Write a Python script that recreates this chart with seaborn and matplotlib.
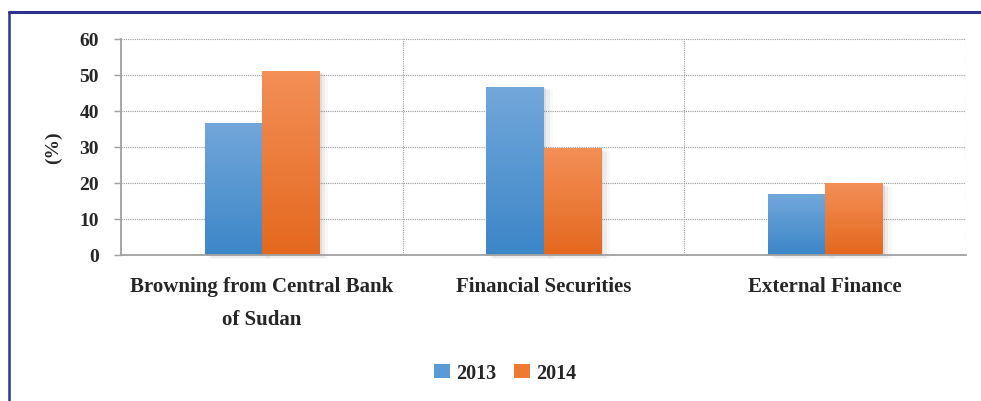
import numpy as np
import pandas as pd
import matplotlib
matplotlib.use("Agg")
import matplotlib.pyplot as plt
from matplotlib.lines import Line2D
from matplotlib.patches import Rectangle
from matplotlib.colors import LinearSegmentedColormap
import seaborn as sns

# --- data ---
categories = ["Browning from Central Bank\nof Sudan", "Financial Securities", "External Finance"]
years = ["2013", "2014"]
values_2013 = [36.8, 46.8, 16.9]
values_2014 = [51.0, 29.6, 19.9]
y_ticks = [0, 10, 20, 30, 40, 50, 60]

df = pd.DataFrame({
    "category": categories * 2,
    "year": [years[0]] * 3 + [years[1]] * 3,
    "value": values_2013 + values_2014,
})

# colour ramps (top -> bottom) for each series
ramps = {
    "2013": ("#72a7da", "#3c86c8"),
    "2014": ("#f38f57", "#e4681e"),
}
solid = {"2013": "#5a9bd5", "2014": "#ee7b30"}

sns.set_theme(style="white")
plt.rcParams["font.family"] = ["Liberation Serif", "DejaVu Serif"]
plt.rcParams["font.weight"] = "bold"

W, H = 981, 402
fig = plt.figure(figsize=(W / 100, H / 100), dpi=100)
ax = fig.add_axes([121 / W, (H - 256) / H, (966 - 121) / W, (256 - 40) / H])

sns.barplot(data=df, x="category", y="value", hue="year", order=categories,
            hue_order=years, palette=solid, width=0.405, gap=0, dodge=True,
            saturation=1, edgecolor="none", linewidth=0, ax=ax, zorder=3)

ax.set_xlim(-0.5, 2.5)
ax.set_ylim(0, 60)
ax.set_yticks(y_ticks)
ax.set_yticklabels([str(v) for v in y_ticks], fontsize=14, fontweight="bold")
ax.set_xticks(range(len(categories)))
ax.set_xticklabels(categories, fontsize=15, fontweight="bold", linespacing=1.85,
                   va="top")
ax.set_xlabel("")
ax.set_ylabel("(%)", fontsize=14, fontweight="bold")
ax.yaxis.set_label_coords(-0.080, 0.5)
ax.yaxis.label.set_va("center")

# gridlines: horizontal at each tick, vertical at category boundaries
ax.set_xticks([0.5, 1.5, 2.5], minor=True)
ax.grid(axis="y", which="major", color="#9a9a9a", linestyle=(0, (1, 1)), linewidth=0.8, zorder=0)
ax.grid(axis="x", which="minor", color="#9a9a9a", linestyle=(0, (1, 1)), linewidth=0.8, zorder=0)
ax.set_axisbelow(True)

for side in ["top", "right"]:
    ax.spines[side].set_visible(False)
for side in ["left", "bottom"]:
    ax.spines[side].set_color("#a0a0a0")
    ax.spines[side].set_linewidth(1.3)
    ax.spines[side].set_zorder(4)

ax.tick_params(axis="y", which="major", length=5, width=1, color="#a0a0a0",
               direction="out", pad=11, left=True)
ax.tick_params(axis="x", which="both", length=0, pad=15)

# gradient fill and soft drop shadow for every bar
if ax.get_legend() is not None:
    ax.get_legend().remove()

bars = [p for p in ax.patches if isinstance(p, Rectangle) and p.get_height() > 0]
grad = np.linspace(0, 1, 256).reshape(-1, 1)
for bar in bars:
    x0, y0 = bar.get_x(), bar.get_y()
    w, h = bar.get_width(), bar.get_height()
    fc = matplotlib.colors.to_hex(bar.get_facecolor())
    key = "2013" if fc == matplotlib.colors.to_hex(solid["2013"]) else "2014"
    top, bottom = ramps[key]
    cmap = LinearSegmentedColormap.from_list(key, [top, bottom])
    # shadow layers
    dx = 0.012
    for i, a in enumerate([0.10, 0.07, 0.04]):
        sh = Rectangle((x0 + dx * (i + 1) * 0.6, y0 - 0.35 * (i + 1)),
                       w + dx * (i + 0.5) * 0.4, h, facecolor="#555555",
                       edgecolor="none", alpha=a, zorder=2.5, clip_on=False)
        ax.add_patch(sh)
    im = ax.imshow(grad, cmap=cmap, aspect="auto",
                   extent=(x0, x0 + w, y0, y0 + h), zorder=3.5,
                   interpolation="bilinear")
    im.set_clip_path(bar)
ax.set_xlim(-0.5, 2.5)
ax.set_ylim(0, 60)

# legend below the plot
handles = [Rectangle((0, 0), 1, 1, facecolor=solid[y], edgecolor="none") for y in years]
fig.legend(handles, years, loc="center", bbox_to_anchor=(505 / W, 1 - 374 / H),
           ncol=2, frameon=False, handlelength=0.8, handleheight=0.7,
           handletextpad=0.3, columnspacing=0.9,
           prop={"weight": "bold", "size": 14.5})

# page frame lines
frame_color = "#2e3192"
fig.add_artist(Line2D([9 / W, 1.0], [1 - 13 / H, 1 - 13 / H], color=frame_color,
                      linewidth=2.2, transform=fig.transFigure))
fig.add_artist(Line2D([9 / W, 9 / W], [0, 1 - 13 / H], color=frame_color,
                      linewidth=1.8, transform=fig.transFigure))

fig.savefig("out.png", dpi=100)
